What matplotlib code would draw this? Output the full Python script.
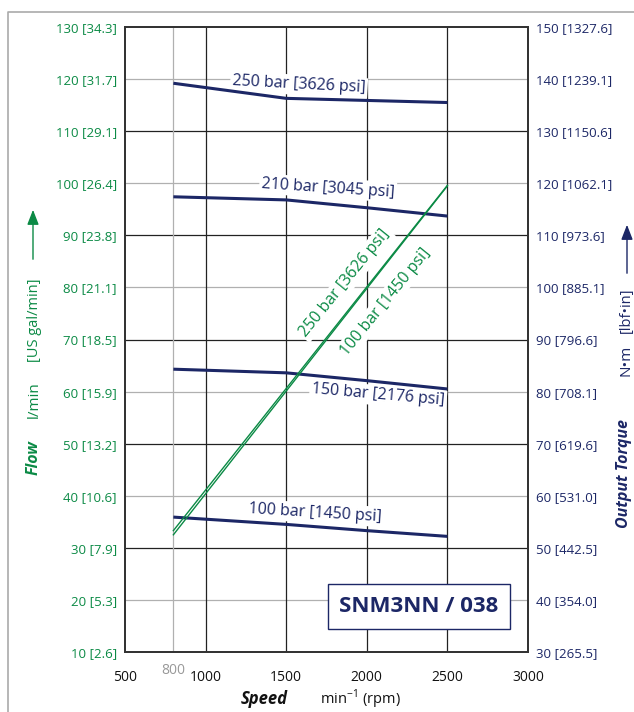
import numpy as np
import matplotlib.pyplot as plt
from matplotlib.lines import Line2D
from matplotlib.patches import Rectangle

plt.rcParams['font.family'] = ['Open Sans', 'DejaVu Sans']
plt.rcParams['mathtext.fontset'] = 'custom'
plt.rcParams['mathtext.rm'] = 'Open Sans'

GREEN = '#0b8a45'
NAVY = '#1c2766'
GRID_DARK = '#222222'
GRID_LIGHT = '#b0b0b0'

# --- data ---
speed = [800, 1500, 2000, 2500]  # min^-1

# output torque, N·m (right axis)
torque_250 = [139.2, 136.3, 135.9, 135.5]
torque_210 = [117.4, 116.8, 115.3, 113.7]
torque_150 = [84.3, 83.6, 82.1, 80.5]
torque_100 = [55.9, 54.5, 53.3, 52.2]

# flow, l/min (left axis)
flow_speed = [800, 2500]
flow_250 = [33.3, 99.6]
flow_100 = [32.5, 99.5]

flow_ticks = [10, 20, 30, 40, 50, 60, 70, 80, 90, 100, 110, 120, 130]
flow_labels = ['10 [2.6]', '20 [5.3]', '30 [7.9]', '40 [10.6]', '50 [13.2]',
               '60 [15.9]', '70 [18.5]', '80 [21.1]', '90 [23.8]', '100 [26.4]',
               '110 [29.1]', '120 [31.7]', '130 [34.3]']
torque_ticks = [30, 40, 50, 60, 70, 80, 90, 100, 110, 120, 130, 140, 150]
torque_labels = ['30 [265.5]', '40 [354.0]', '50 [442.5]', '60 [531.0]', '70 [619.6]',
                 '80 [708.1]', '90 [796.6]', '100 [885.1]', '110 [973.6]', '120 [1062.1]',
                 '130 [1150.6]', '140 [1239.1]', '150 [1327.6]']
speed_ticks = [500, 1000, 1500, 2000, 2500, 3000]

W, H = 634, 712
fig = plt.figure(figsize=(W / 100, H / 100), dpi=100)
ax = fig.add_axes([125 / W, 60 / H, 403 / W, 625 / H])
ax2 = ax.twinx()

ax.set_xlim(500, 3000)
ax.set_ylim(10, 130)
ax2.set_ylim(30, 150)

# grid: dark every 20 l/min and every 500 rpm, light in between
for v in flow_ticks[1:-1]:
    dark = (v // 10) % 2 == 1
    ax.axhline(v, color=GRID_DARK if dark else GRID_LIGHT, lw=0.9, zorder=1)
for v in speed_ticks[1:-1]:
    ax.axvline(v, color=GRID_DARK, lw=0.9, zorder=1)
ax.axvline(800, color=GRID_LIGHT, lw=0.9, zorder=1)

for a in (ax, ax2):
    for s in a.spines.values():
        s.set_color('#333333')
        s.set_linewidth(1.3)
    a.tick_params(length=0)

ax.set_xticks(speed_ticks)
ax.set_xticklabels([str(t) for t in speed_ticks], fontsize=10, color='#111111')
ax.tick_params(axis='x', pad=13)
ax.set_yticks(flow_ticks)
ax.set_yticklabels(flow_labels, fontsize=9.5, color=GREEN)
ax.tick_params(axis='y', pad=6)
ax2.set_yticks(torque_ticks)
ax2.set_yticklabels(torque_labels, fontsize=9.5, color=NAVY)
ax2.tick_params(axis='y', pad=6)

ax.text(800, -0.018, '800', transform=ax.get_xaxis_transform(), ha='center', va='top',
        fontsize=10, color='#999999')

# torque curves
for tq in (torque_250, torque_210, torque_150, torque_100):
    ax2.plot(speed, tq, color=NAVY, lw=2.2, solid_capstyle='butt', zorder=4)

# flow curves (left scale)
ax2.plot(flow_speed, flow_250, color=GREEN, lw=1.0, transform=ax.transData, zorder=5)
ax2.plot(flow_speed, flow_100, color=GREEN, lw=1.0, transform=ax.transData, zorder=5)

box = dict(facecolor='white', edgecolor='none', pad=1.5)
lab = dict(ha='center', va='center', rotation_mode='anchor', fontsize=11.5, bbox=box, zorder=3)
ax2.text(1579, 138.9, '250 bar [3626 psi]', color=NAVY, rotation=-3, **lab)
ax2.text(1759, 119.1, '210 bar [3045 psi]', color=NAVY, rotation=-3.8, **lab)
ax2.text(2070, 79.3, '150 bar [2176 psi]', color=NAVY, rotation=-5, **lab)
ax2.text(1678, 56.7, '100 bar [1450 psi]', color=NAVY, rotation=-3.5, **lab)
ax2.text(1865, 80.8, '250 bar [3626 psi]', color=GREEN, rotation=51,
         transform=ax.transData, **lab)
ax2.text(2115, 77.2, '100 bar [1450 psi]', color=GREEN, rotation=51,
         transform=ax.transData, **lab)

# model tag
ax2.add_patch(Rectangle((1759, 14.4), 1129, 8.6, transform=ax.transData,
                        facecolor='white', edgecolor=NAVY, lw=1.0, zorder=6))
ax2.text(2323, 18.7, 'SNM3NN / 038', transform=ax.transData, ha='center', va='center',
         fontsize=16, fontweight='bold', color=NAVY, zorder=7)


def fx(px):
    return px / W


def fy(py):
    return 1 - py / H


# side titles
fig.text(fx(34), fy(458), 'Flow', rotation=90, ha='center', va='center',
         fontsize=11.5, fontweight='bold', style='italic', color=GREEN)
fig.text(fx(34), fy(400), 'l/min', rotation=90, ha='center', va='center',
         fontsize=11, color=GREEN)
fig.text(fx(34), fy(320), '[US gal/min]', rotation=90, ha='center', va='center',
         fontsize=10.5, color=GREEN)
fig.add_artist(plt.Annotation('', xy=(fx(33), fy(207)), xytext=(fx(33), fy(262)),
                              xycoords='figure fraction', textcoords='figure fraction',
                              arrowprops=dict(arrowstyle='-|>,head_length=0.9,head_width=0.35',
                                              color=GREEN, lw=1.0)))

fig.text(fx(624), fy(474), 'Output Torque', rotation=90, ha='center', va='center',
         fontsize=11.5, fontweight='bold', style='italic', color=NAVY)
fig.text(fx(626), fy(360), 'N•m', rotation=90, ha='center', va='center',
         fontsize=11, color=NAVY)
fig.text(fx(626), fy(310), '[lbf•in]', rotation=90, ha='center', va='center',
         fontsize=10.5, color=NAVY)
fig.add_artist(plt.Annotation('', xy=(fx(627), fy(222)), xytext=(fx(627), fy(276)),
                              xycoords='figure fraction', textcoords='figure fraction',
                              arrowprops=dict(arrowstyle='-|>,head_length=0.9,head_width=0.35',
                                              color=NAVY, lw=1.0)))

# x title
fig.text(fx(264), fy(699), 'Speed', ha='center', va='center', fontsize=12,
         fontweight='bold', style='italic', color='#111111')
fig.text(fx(360), fy(699), r'min$^{-1}$ (rpm)', ha='center', va='center', fontsize=10.5,
         color='#111111')

# outer frame (top and left edges)
fig.add_artist(Line2D([fx(8), fx(8), 1], [0, fy(12), fy(12)], color='#aaaaaa', lw=1.2))

fig.savefig('out.png', dpi=100)
